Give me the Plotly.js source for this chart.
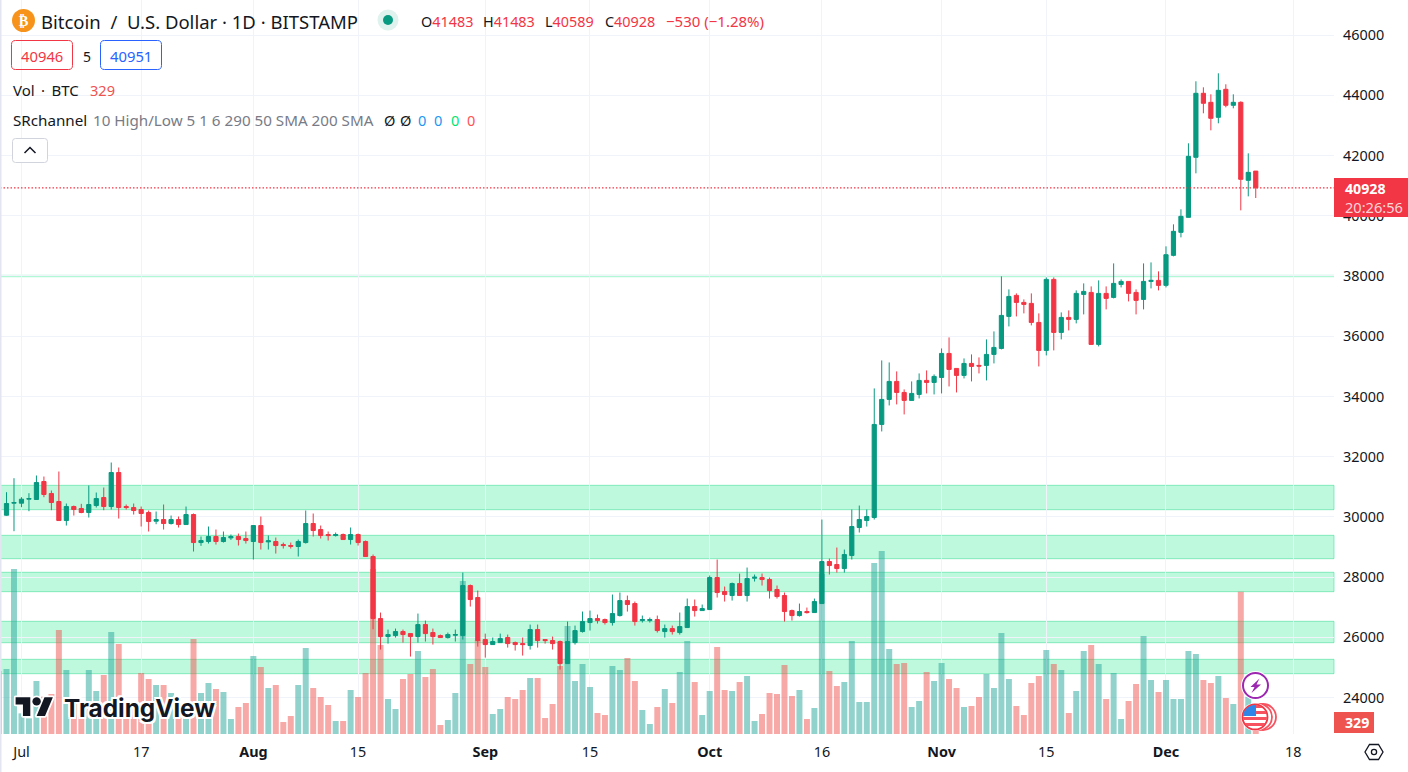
<!DOCTYPE html>
<html><head><meta charset="utf-8">
<script src="https://cdn.plot.ly/plotly-3.0.1.min.js"></script>
<style>html,body{margin:0;padding:0;background:#fff;overflow:hidden}#chart{width:1408px;height:772px}</style>
</head><body><div id="chart"></div>
<script>
const dates = ["2023-06-29","2023-06-30",
"2023-07-01","2023-07-02","2023-07-03","2023-07-04","2023-07-05","2023-07-06","2023-07-07","2023-07-08","2023-07-09","2023-07-10","2023-07-11","2023-07-12","2023-07-13","2023-07-14","2023-07-15","2023-07-16","2023-07-17","2023-07-18","2023-07-19","2023-07-20","2023-07-21","2023-07-22","2023-07-23","2023-07-24","2023-07-25","2023-07-26","2023-07-27","2023-07-28","2023-07-29","2023-07-30","2023-07-31",
"2023-08-01","2023-08-02","2023-08-03","2023-08-04","2023-08-05","2023-08-06","2023-08-07","2023-08-08","2023-08-09","2023-08-10","2023-08-11","2023-08-12","2023-08-13","2023-08-14","2023-08-15","2023-08-16","2023-08-17","2023-08-18","2023-08-19","2023-08-20","2023-08-21","2023-08-22","2023-08-23","2023-08-24","2023-08-25","2023-08-26","2023-08-27","2023-08-28","2023-08-29","2023-08-30","2023-08-31",
"2023-09-01","2023-09-02","2023-09-03","2023-09-04","2023-09-05","2023-09-06","2023-09-07","2023-09-08","2023-09-09","2023-09-10","2023-09-11","2023-09-12","2023-09-13","2023-09-14","2023-09-15","2023-09-16","2023-09-17","2023-09-18","2023-09-19","2023-09-20","2023-09-21","2023-09-22","2023-09-23","2023-09-24","2023-09-25","2023-09-26","2023-09-27","2023-09-28","2023-09-29","2023-09-30",
"2023-10-01","2023-10-02","2023-10-03","2023-10-04","2023-10-05","2023-10-06","2023-10-07","2023-10-08","2023-10-09","2023-10-10","2023-10-11","2023-10-12","2023-10-13","2023-10-14","2023-10-15","2023-10-16","2023-10-17","2023-10-18","2023-10-19","2023-10-20","2023-10-21","2023-10-22","2023-10-23","2023-10-24","2023-10-25","2023-10-26","2023-10-27","2023-10-28","2023-10-29","2023-10-30","2023-10-31",
"2023-11-01","2023-11-02","2023-11-03","2023-11-04","2023-11-05","2023-11-06","2023-11-07","2023-11-08","2023-11-09","2023-11-10","2023-11-11","2023-11-12","2023-11-13","2023-11-14","2023-11-15","2023-11-16","2023-11-17","2023-11-18","2023-11-19","2023-11-20","2023-11-21","2023-11-22","2023-11-23","2023-11-24","2023-11-25","2023-11-26","2023-11-27","2023-11-28","2023-11-29","2023-11-30",
"2023-12-01","2023-12-02","2023-12-03","2023-12-04","2023-12-05","2023-12-06","2023-12-07","2023-12-08","2023-12-09","2023-12-10","2023-12-11","2023-12-12","2023-12-13"];

const opens = [30058,30457,
30457,30590,30579,31176,30778,30512,29881,30346,30280,30147,30379,30645,30346,31475,30346,30313,30247,30147,29859,29914,29782,29914,29748,30080,29150,29184,29350,29184,29306,29350,29283,
29184,29715,29173,29184,29084,29051,29018,29150,29782,29582,29416,29383,29416,29250,29416,29184,28686,26627,26029,26062,26195,26128,26029,26427,26162,26062,25996,26073,26062,27723,27324,
25929,25763,25829,25996,25829,25796,25730,26261,25929,25896,25863,25132,25829,26195,26494,26627,26593,26494,26726,27224,27125,26560,26560,26593,26195,26294,26162,26328,27025,26892,
26925,27988,27523,27391,27789,27391,27966,27988,27922,27590,27391,26892,26726,26859,26826,27125,28520,28420,28287,28719,29649,29881,29981,33071,33902,34500,34134,33869,34068,34533,34466,
34632,35429,34931,34699,35097,35031,35031,35396,35595,36658,37356,37123,37090,36459,35529,37887,36127,36625,36559,37389,37455,35728,37422,37289,37721,37820,37455,37223,37820,37854,
37689,38685,39449,39947,41940,44065,43766,43268,44198,43667,43766,41176,41483];

const highs = [30822,31287,
30656,30789,31376,31342,30878,31508,30446,30379,30435,31044,30811,30977,31807,31641,30413,30446,30346,30213,30180,30413,30047,30014,30346,30114,29350,29682,29582,29516,29416,29449,29516,
29715,30014,29383,29317,29150,29150,29250,30213,30114,29715,29516,29483,29449,29649,29449,29217,28752,26826,26261,26295,26261,26128,26793,26560,26295,26095,26162,26261,28154,27756,27556,
26128,25996,26128,26095,25863,25996,26427,26427,25929,26029,25896,26527,26394,26859,26892,26759,26627,27424,27490,27391,27191,26726,26660,26726,26427,26394,26826,27291,27258,27092,
28055,28586,27689,27822,28121,28320,28088,28121,27988,27723,27490,26925,27125,26992,27291,29914,28619,28985,28918,30247,30379,30247,34267,35197,35130,34832,34234,34500,34765,34865,34732,
35595,35961,34931,35263,35396,35297,35894,36160,37987,37555,37422,37223,37422,36758,37953,37953,36791,36857,37522,37754,37654,37854,37654,38418,37887,37820,37555,38418,38451,38153,
38984,39715,40213,42405,44464,44264,44032,44729,44364,44032,43799,42072,41483];

const lows = [30040,29527,
30324,30191,30579,30656,30224,29881,29715,30047,30125,29981,30313,30224,30247,29948,30247,30080,29682,29516,29759,29582,29748,29649,29748,28852,29040,29117,29084,29150,29239,29051,29117,
28586,28918,28918,28785,28951,28951,28686,29117,29350,29283,29217,29350,29250,29084,29051,28686,26272,25597,25796,25996,25829,25365,25829,25863,25763,25985,25962,25863,25929,27025,25697,
25331,25763,25829,25663,25564,25398,25597,25663,25796,25597,24933,25132,25763,26162,26228,26461,26427,26394,26693,26859,26394,26494,26494,26162,25996,26095,26095,26328,26693,26892,
26925,27324,27191,27224,27391,27191,27855,27723,27291,27291,26527,26560,26693,26793,26826,27125,28088,28154,28154,28586,29483,29682,29914,32839,33702,33736,33404,33869,33935,34101,34068,
34101,34333,34134,34599,34500,34765,34533,35097,35562,36326,36658,36758,36359,34998,35363,35529,35894,36193,36426,36725,35728,35662,36891,37256,37621,37156,36725,36891,37588,37522,
37621,38652,39283,39947,41408,43401,42836,43069,43600,43567,40180,40644,40589];

const closes = [30446,30479,
30590,30612,31143,30745,30479,29881,30346,30247,30147,30413,30612,30346,31475,30313,30313,30213,30114,29848,29914,29782,29914,29748,30080,29150,29217,29350,29184,29317,29350,29250,29217,
29715,29150,29206,29051,29051,29029,29184,29782,29549,29383,29383,29416,29250,29416,29150,28686,26627,26029,26095,26195,26095,26029,26427,26128,26029,25996,26095,26095,27723,27258,25896,
25763,25863,25962,25796,25763,25763,26261,25896,25896,25796,25132,25863,26228,26527,26627,26560,26494,26793,27224,27092,26527,26593,26593,26228,26294,26195,26361,27025,26892,26959,
27988,27490,27424,27789,27391,27955,27999,27922,27556,27357,26859,26726,26859,26826,27191,28520,28387,28287,28752,29682,29914,30014,33071,33902,34500,34134,33869,34101,34533,34466,34666,
35429,34898,34699,35097,34998,35009,35396,35629,36691,37322,37123,37057,36459,35529,37887,36127,36625,36559,37422,37488,35728,37422,37256,37754,37820,37422,37190,37820,37854,37688,
38707,39482,39980,41973,44065,43733,43235,44165,43667,43766,41209,41441,40928];

const volumes = [4290,10890,
1364,1034,3498,2464,2640,6864,4224,2024,1364,4224,2838,3894,6732,5940,2024,2134,4026,3630,3234,3234,2706,1804,1584,6270,2706,3366,2970,2772,990,1782,2046,
5148,4422,3036,3234,792,1188,3234,5676,3036,2442,1914,858,858,2904,2442,4026,10890,5874,2310,1650,3630,3960,5478,3762,4290,594,924,2706,10098,4620,6204,
4422,1320,1650,2442,2310,2904,3696,3696,1056,1980,4488,7128,3498,4620,3102,1386,1254,4488,4224,5016,3498,1584,660,1782,2970,2046,4092,6138,3432,1254,
2838,5742,2904,2838,3432,3828,858,1320,2706,2640,4554,2508,2904,990,1716,10560,4158,3168,3432,6138,2112,2112,11286,12078,5610,4620,4686,1782,2178,4092,3498,
4686,3630,3036,1782,1848,2442,3960,3036,6666,3630,1848,1254,3366,3828,5544,4620,4224,1386,2838,5478,5874,4620,2310,4026,990,2178,3300,6468,3564,2772,
3564,2310,2310,5478,5280,3564,3366,3828,2376,1980,9394,2464,329];

const earlyVolumeDate = "2023-06-28";
const earlyVolume = 4158;

const xTickDates = ["2023-07-01","2023-07-17","2023-08-01","2023-08-15","2023-09-01","2023-09-15","2023-10-01","2023-10-16","2023-11-01","2023-11-15","2023-12-01","2023-12-18"];
const xTickLabels = ["Jul","17","<b>Aug</b>","15","<b>Sep</b>","15","<b>Oct</b>","16","<b>Nov</b>","15","<b>Dec</b>","18"];
const priceTicks = [24000,26000,28000,30000,32000,34000,36000,38000,40000,42000,44000,46000];

const bandLows  = [30241,28614,27519,25825,24796];
const bandHighs = [31051,29391,28163,26536,25274];
const thinBandLow = 37962, thinBandHigh = 38038;

const lastClose = 40928;

const UP = "#089981", DOWN = "#f23645", W = 1334, H = 734;
const FONT = "'Noto Sans', sans-serif";
const px = x => x / W, py = y => 1 - y / H;
const NB = "\u00a0", TS = "\u2009";

function note(x, y, text, color, size, opts) {
  return Object.assign({xref:"paper", yref:"paper", x:px(x), y:py(y), text, showarrow:false,
    xanchor:"left", yanchor:"middle", borderpad:0, align:"left",
    font:{family:FONT, size:size||14, color:color||"#131722"}}, opts||{});
}
function rrect(x0,y0,x1,y1,r,line,fill) {
  const X=v=>px(v).toFixed(5), Y=v=>py(v).toFixed(5);
  const p = `M${X(x0+r)},${Y(y0)} L${X(x1-r)},${Y(y0)} Q${X(x1)},${Y(y0)} ${X(x1)},${Y(y0+r)} L${X(x1)},${Y(y1-r)} Q${X(x1)},${Y(y1)} ${X(x1-r)},${Y(y1)} L${X(x0+r)},${Y(y1)} Q${X(x0)},${Y(y1)} ${X(x0)},${Y(y1-r)} L${X(x0)},${Y(y0+r)} Q${X(x0)},${Y(y0)} ${X(x0+r)},${Y(y0)} Z`;
  return {type:"path", xref:"paper", yref:"paper", path:p, line:{color:line||"rgba(0,0,0,0)", width:line?1:0}, fillcolor:fill||"rgba(0,0,0,0)", layer:"above"};
}
function svgImage(svg,x,y,w,h) {
  return {source:"data:image/svg+xml;charset=utf-8,"+encodeURIComponent(svg), xref:"paper", yref:"paper",
    x:px(x), y:py(y), sizex:w/W, sizey:h/H, xanchor:"left", yanchor:"top", sizing:"stretch", layer:"above"};
}

const bars = {type:"bar", x:[earlyVolumeDate].concat(dates), y:[earlyVolume].concat(volumes), xaxis:"x", yaxis:"y",
  marker:{color:["rgba(239,83,80,0.5)"].concat(closes.map((c,i)=> c>=opens[i] ? "rgba(38,166,154,0.5)" : "rgba(239,83,80,0.5)")), line:{width:0}},
  hoverinfo:"skip", showlegend:false};
const candles = {type:"candlestick", x:dates, open:opens, high:highs, low:lows, close:closes, xaxis:"x", yaxis:"y2",
  increasing:{line:{color:UP,width:1}, fillcolor:UP}, decreasing:{line:{color:DOWN,width:1}, fillcolor:DOWN},
  whiskerwidth:0, hoverinfo:"skip", showlegend:false};

const shapes = bandLows.map((lo,i)=>({type:"rect", xref:"paper", yref:"y2", x0:0, x1:1, y0:lo, y1:bandHighs[i],
  fillcolor:"rgba(0,230,118,0.25)", line:{color:"rgba(0,210,120,0.4)", width:1}, layer:"below"}));
shapes.push({type:"rect", xref:"paper", yref:"y2", x0:0, x1:1, y0:thinBandLow, y1:thinBandHigh, fillcolor:"rgba(0,230,118,0.3)", line:{width:0}, layer:"below"});
shapes.push({type:"line", xref:"paper", yref:"y2", x0:0, x1:1, y0:lastClose, y1:lastClose, line:{color:DOWN,width:1.3,dash:"1.5px,2px"}, layer:"above"});
shapes.push({type:"rect", xref:"paper", yref:"paper", x0:0, x1:px(1.5), y0:py(772), y1:1, fillcolor:"#e3e6f0", line:{width:0}, layer:"above"});
shapes.push({type:"rect", xref:"paper", yref:"paper", x0:1, x1:px(1408), y0:py(217), y1:py(178), fillcolor:DOWN, line:{width:0}, layer:"above"});
shapes.push({type:"rect", xref:"paper", yref:"paper", x0:1, x1:px(1374), y0:py(733), y1:py(712), fillcolor:"#ef5350", line:{width:0}, layer:"above"});
shapes.push(rrect(11.5,40.5,72.5,69.5,4,DOWN));
shapes.push(rrect(100.5,40.5,161.5,69.5,4,"#2962ff"));
shapes.push(rrect(12.5,138.5,47.5,162.5,3,"#d1d4dc","#ffffff"));
shapes.push({type:"path", xref:"paper", yref:"paper",
  path:`M${px(24.5).toFixed(5)},${py(153).toFixed(5)} L${px(30).toFixed(5)},${py(147.5).toFixed(5)} L${px(35.5).toFixed(5)},${py(153).toFixed(5)}`,
  line:{color:"#131722",width:1.5}, layer:"above"});

const TXT = 14.4;
const annotations = [
  note(39.5,21,`Bitcoin${NB}${NB}/${NB}${NB}U.S.${NB}Dollar · 1D · BITSTAMP`,"#131722",18.5),
  note(419.5,21,"O<span style='color:#f23645'>41483</span>","#131722",14.4),
  note(481.5,21,"H<span style='color:#f23645'>41483</span>","#131722",14.4),
  note(544,21,"L<span style='color:#f23645'>40589</span>","#131722",14.4),
  note(604,21,"C<span style='color:#f23645'>40928</span>","#131722",14.4),
  note(665,21,"−530 (−1.28%)",DOWN,15),
  note(42,56,"40946",DOWN,14.8,{xanchor:"center"}),
  note(87,56,"5","#131722",14,{xanchor:"center"}),
  note(131,56,"40951","#2962ff",14.8,{xanchor:"center"}),
  note(12,90,`Vol${TS}${NB}·${NB}${TS}BTC`,"#131722",15),
  note(89,90,"329","#ef5350",14.6),
  note(12,120,"SRchannel","#131722",15.2),
  note(91.5,120,"10 High/Low 5 1 6 290 50 SMA 200 SMA","#787b86",15.2),
  note(389,120,"Ø","#131722",14.6,{xanchor:"center"}),
  note(405,120,"Ø","#131722",14.6,{xanchor:"center"}),
  note(421.7,120,"0","#2196f3",14.6,{xanchor:"center"}),
  note(438,120,"0","#2196f3",14.6,{xanchor:"center"}),
  note(454.7,120,"0","#00e676",14.6,{xanchor:"center"}),
  note(470.7,120,"0","#ff5252",14.6,{xanchor:"center"}),
  note(1344,188,"<b>40928</b>","#ffffff",14.2),
  note(1344,207,"20:26:56","rgba(255,255,255,0.8)",14.6),
  note(1344,722,"<b>329</b>","#ffffff",14.2),
  note(62.5,708,"TradingView","#131722",25,{font:{family:"Inter, sans-serif",size:24.4,color:"#131722",weight:650,
    shadow:"-2px -2px 0 #fff, 2px -2px 0 #fff, 2px 2px 0 #fff, -2px 2px 0 #fff, 0 2px 0 #fff, 0 -2px 0 #fff, 2px 0 0 #fff, -2px 0 0 #fff"}})
];

const images = [
  svgImage(`<svg xmlns="http://www.w3.org/2000/svg" viewBox="0 0 24 24"><circle cx="12" cy="12" r="12" fill="#f7931a"/><text x="12" y="17.5" text-anchor="middle" font-family="DejaVu Sans" font-size="15" font-weight="bold" fill="#fff">₿</text></svg>`,12,9,23,23),
  svgImage(`<svg xmlns="http://www.w3.org/2000/svg" viewBox="0 0 22 22"><circle cx="11" cy="11" r="10.5" fill="#dff2ee"/><circle cx="11" cy="11" r="5" fill="#089981"/></svg>`,377,9,22,22),
  svgImage(`<svg xmlns="http://www.w3.org/2000/svg" viewBox="-2 -2 40 26"><g fill="#fff" stroke="#fff" stroke-width="3.5" stroke-linejoin="round"><path d="M14 22H7V11H0V4h14v18zM28 22h-8l7.5-18h8L28 22z"/><circle cx="20" cy="8" r="4"/></g><g fill="#131722"><path d="M14 22H7V11H0V4h14v18zM28 22h-8l7.5-18h8L28 22z"/><circle cx="20" cy="8" r="4"/></g></svg>`,13.5,691,42,27),
  svgImage(`<svg xmlns="http://www.w3.org/2000/svg" viewBox="0 0 30 30"><circle cx="15" cy="15" r="14.5" fill="#fff"/><circle cx="15" cy="15" r="12.5" fill="#fff" stroke="#9c27b0" stroke-width="2"/><path d="M19 8 L10 16.5 H14 L11 22.5 L20.5 14 H16 Z" fill="#9c27b0"/></svg>`,1240.5,670.5,30,30),
  svgImage(`<svg xmlns="http://www.w3.org/2000/svg" viewBox="0 0 38 30"><defs><clipPath id="c"><circle cx="14" cy="15" r="12"/></clipPath></defs><circle cx="22" cy="15" r="13" fill="#fff" stroke="#f7525f" stroke-width="1.8"/><circle cx="18" cy="15" r="13" fill="#fff" stroke="#f7525f" stroke-width="1.8"/><circle cx="14" cy="15" r="14" fill="#fff"/><circle cx="14" cy="15" r="12.5" fill="#fff" stroke="#f23645" stroke-width="1.8"/><g clip-path="url(#c)"><rect x="0" y="3" width="30" height="3" fill="#f7525f"/><rect x="0" y="9" width="30" height="3" fill="#f7525f"/><rect x="0" y="15" width="30" height="3" fill="#f7525f"/><rect x="0" y="21" width="30" height="3" fill="#f7525f"/><rect x="0" y="2" width="15" height="12" fill="#2f86e8"/></g></svg>`,1241,702,38,30),
  svgImage(`<svg xmlns="http://www.w3.org/2000/svg" viewBox="0 0 20 18"><path d="M5.5 1.5 H14.5 L19 9 L14.5 16.5 H5.5 L1 9 Z" fill="none" stroke="#131722" stroke-width="1.3"/><circle cx="10" cy="9" r="2.6" fill="none" stroke="#131722" stroke-width="1.3"/></svg>`,1364,743,20,18)
];

const layout = {
  width:1408, height:772, margin:{l:0,r:74,t:0,b:38,pad:0}, paper_bgcolor:"#fff", plot_bgcolor:"#fff",
  font:{family:FONT,size:TXT,color:"#131722"}, showlegend:false, bargap:0.2, boxgap:0.2, boxgroupgap:0.3, dragmode:false,
  xaxis:{type:"date", range:["2023-06-28 03:07","2023-12-23 11:02"], tickmode:"array", tickvals:xTickDates, ticktext:xTickLabels,
    showgrid:true, gridcolor:"#f0f3fa", gridwidth:1, zeroline:false, showline:false, ticks:"", rangeslider:{visible:false}, tickangle:0,
    ticklabelstandoff:8, tickfont:{family:FONT,size:TXT,color:"#131722"}, fixedrange:true},
  yaxis:{range:[0,48444], visible:false, fixedrange:true, showgrid:false, zeroline:false},
  yaxis2:{range:[22794,47163], overlaying:"y", side:"right", tickmode:"array", tickvals:priceTicks, ticktext:priceTicks.map(String),
    showgrid:true, gridcolor:"#f0f3fa", gridwidth:1, zeroline:false, showline:false, ticks:"", ticklabelstandoff:8,
    tickfont:{family:FONT,size:TXT,color:"#131722"}, fixedrange:true},
  shapes, annotations, images
};
Plotly.newPlot("chart",[bars,candles],layout,{displayModeBar:false,staticPlot:true,responsive:false});
</script></body></html>
